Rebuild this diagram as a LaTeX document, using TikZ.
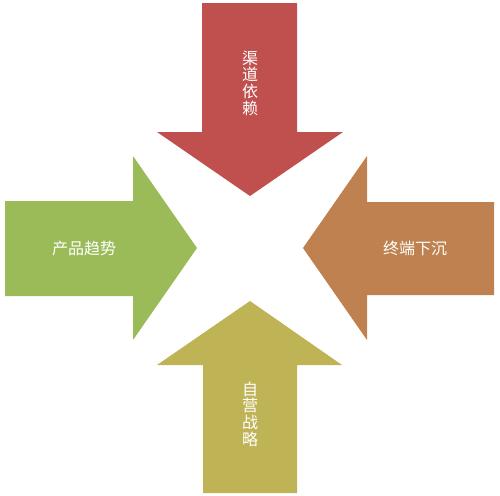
\documentclass[tikz,border=0pt]{standalone}
\usepackage{fontspec}
\newfontfamily\cjk{Noto Sans CJK SC}
\definecolor{pfeilrot}{HTML}{C0504D}
\definecolor{pfeilgruen}{HTML}{9BBB59}
\definecolor{pfeilbraun}{HTML}{BF814F}
\definecolor{pfeiloliv}{HTML}{BEB355}
\tikzset{
    pfeil/.style={draw=none},
    beschriftung/.style={text=white, align=center, inner sep=0pt,
        font=\cjk\fontsize{12}{12.5}\selectfont}
}
\begin{document}
\begin{tikzpicture}[x=0.75pt, y=-0.75pt]
        \useasboundingbox (0, 0) rectangle (500, 496);
        % Pfeile
        \fill [pfeil, pfeilrot]   (202, 3) -- (297, 3) -- (297, 132) -- (343, 132)
            -- (250, 196) -- (157, 132) -- (202, 132) -- cycle;
        \fill [pfeil, pfeilgruen] (5, 201) -- (133, 201) -- (133, 156) -- (197, 248)
            -- (133, 340) -- (133, 296) -- (5, 296) -- cycle;
        \fill [pfeil, pfeilbraun] (494, 202) -- (367, 202) -- (367, 156) -- (303, 248)
            -- (367, 340) -- (367, 295) -- (494, 295) -- cycle;
        \fill [pfeil, pfeiloliv]  (203, 493) -- (297, 493) -- (297, 365) -- (342, 365)
            -- (250, 301) -- (157, 365) -- (203, 365) -- cycle;
        % Texte
        \node [beschriftung] (kanal)    at (250, 83)  {渠\\道\\依\\赖};
        \node [beschriftung] (produkt)  at (84, 248)  {产品趋势};
        \node [beschriftung] (terminal) at (415, 248) {终端下沉};
        \node [beschriftung] (eigen)    at (250, 414) {自\\营\\战\\略};
    \end{tikzpicture}
\end{document}
